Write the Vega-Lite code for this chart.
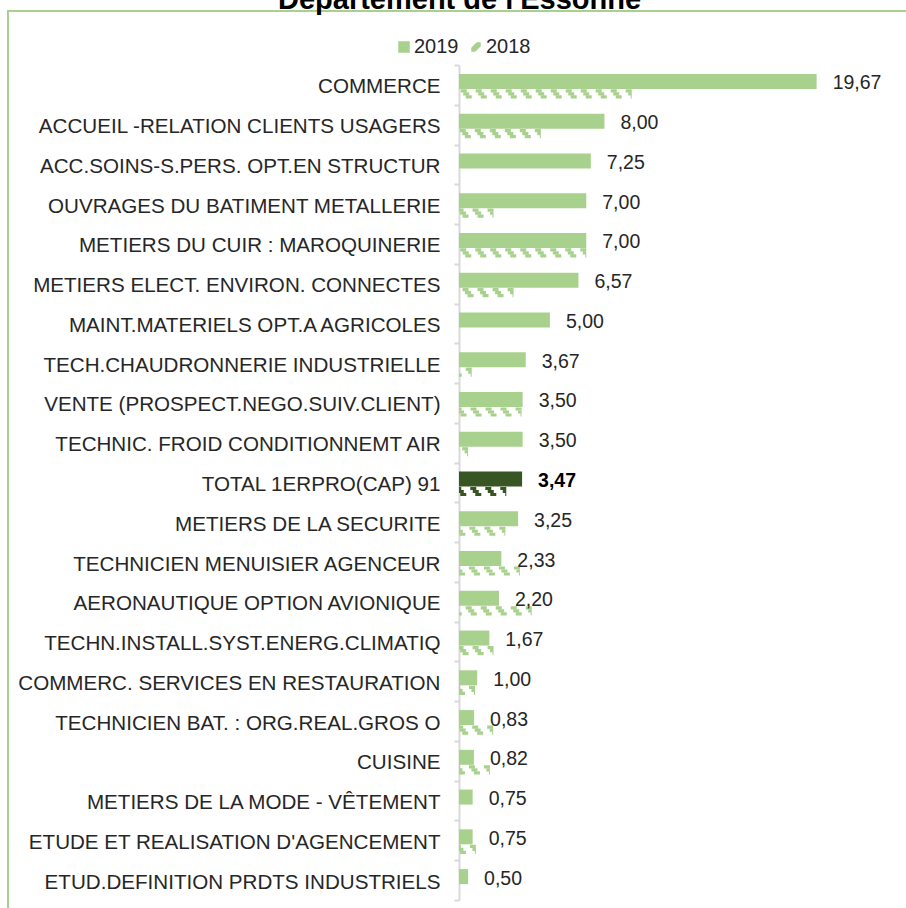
{
  "$schema": "https://vega.github.io/schema/vega-lite/v6.json",
  "autosize": {"type": "none"},
  "padding": {"left": 8, "top": 11, "right": 0, "bottom": 0},
  "width": 940,
  "height": 940,
  "title": {"text": "Département de l'Essonne", "fontSize": 29, "font": "Liberation Sans", "fontWeight": "bold", "color": "#000000", "anchor": "start", "dx": 270, "baseline": "alphabetic", "offset": 2, "dy": 39, "frame": "group"},
  "config": {
    "locale": {"number": {"decimal": ",", "thousands": " ", "grouping": [3], "currency": ["", " €"]}},
    "view": {"stroke": "#a9d18e", "strokeWidth": 2},
    "font": "Liberation Sans"
  },
  "data": {"values": [
    {"cat": "COMMERCE", "2019": 19.67, "2018": 9.5},
    {"cat": "ACCUEIL -RELATION CLIENTS USAGERS", "2019": 8.0, "2018": 4.5},
    {"cat": "ACC.SOINS-S.PERS. OPT.EN STRUCTUR", "2019": 7.25, "2018": 0},
    {"cat": "OUVRAGES DU BATIMENT METALLERIE", "2019": 7.0, "2018": 1.9},
    {"cat": "METIERS DU CUIR : MAROQUINERIE", "2019": 7.0, "2018": 7.0},
    {"cat": "METIERS ELECT. ENVIRON. CONNECTES", "2019": 6.57, "2018": 3.0},
    {"cat": "MAINT.MATERIELS OPT.A AGRICOLES", "2019": 5.0, "2018": 0},
    {"cat": "TECH.CHAUDRONNERIE INDUSTRIELLE", "2019": 3.67, "2018": 0.7},
    {"cat": "VENTE (PROSPECT.NEGO.SUIV.CLIENT)", "2019": 3.5, "2018": 3.44},
    {"cat": "TECHNIC. FROID CONDITIONNEMT AIR", "2019": 3.5, "2018": 0.5},
    {"cat": "TOTAL 1ERPRO(CAP) 91", "2019": 3.47, "2018": 2.6},
    {"cat": "METIERS DE LA SECURITE", "2019": 3.25, "2018": 2.55},
    {"cat": "TECHNICIEN MENUISIER AGENCEUR", "2019": 2.33, "2018": 3.35},
    {"cat": "AERONAUTIQUE OPTION AVIONIQUE", "2019": 2.2, "2018": 4.0},
    {"cat": "TECHN.INSTALL.SYST.ENERG.CLIMATIQ", "2019": 1.67, "2018": 1.9},
    {"cat": "COMMERC. SERVICES EN RESTAURATION", "2019": 1.0, "2018": 0.88},
    {"cat": "TECHNICIEN BAT. : ORG.REAL.GROS O", "2019": 0.83, "2018": 1.88},
    {"cat": "CUISINE", "2019": 0.82, "2018": 1.7},
    {"cat": "METIERS DE LA MODE - VÊTEMENT", "2019": 0.75, "2018": 0},
    {"cat": "ETUDE ET REALISATION D'AGENCEMENT", "2019": 0.75, "2018": 0.93},
    {"cat": "ETUD.DEFINITION PRDTS INDUSTRIELS", "2019": 0.5, "2018": 0}
  ]},
  "transform": [{"fold": ["2019", "2018"], "as": ["year", "value"]}],
  "encoding": {
    "y": {
      "field": "cat", "type": "nominal", "sort": null,
      "scale": {"range": [54, 889], "paddingInner": 0, "paddingOuter": 0},
      "axis": {
        "title": null, "orient": "left", "offset": -451,
        "domainColor": "#d9d9d9", "domainWidth": 2,
        "tickColor": "#d9d9d9", "tickWidth": 2, "tickSize": 5, "tickBand": "extent",
        "labelFontSize": 20.6, "labelColor": "#262626", "labelPadding": 14, "labelLimit": 600, "labelOffset": 2
      }
    }
  },
  "layer": [
    {
      "transform": [{"filter": "datum.year == '2019'"}],
      "mark": {"type": "bar", "height": 15, "yOffset": -3.5},
      "encoding": {
        "x": {"field": "value", "type": "quantitative", "scale": {"domain": [0, 22], "range": [451, 851]}, "axis": null},
        "color": {
          "condition": {"test": "datum.cat == 'TOTAL 1ERPRO(CAP) 91'", "value": "#375623"},
          "field": "year", "type": "nominal",
          "scale": {"domain": ["2019", "2018"], "range": ["#a9d18e", "#a9d18e"]},
          "legend": {
            "title": null, "orient": "none", "legendX": 386, "legendY": 26, "direction": "horizontal",
            "labelFontSize": 20, "labelColor": "#262626", "symbolSize": 100, "symbolType": "square",
            "labelOffset": 0, "columnPadding": 7,
            "encode": {"symbols": {"update": {
              "fill": {"value": "#a9d18e"}, "stroke": {"value": "transparent"},
              "shape": {"signal": "datum.value == '2018' ? 'M-0.8,0.8 L-0.2,0.8 L0.8,-0.2 L0.8,-0.8 L0.2,-0.8 L-0.8,0.2 Z' : 'square'"}
            }}}
          }
        }
      }
    },
    {
      "transform": [{"filter": "datum.year == '2018' && datum.value > 0"}],
      "mark": {"type": "rule", "strokeWidth": 3.2, "strokeDash": [6, 9], "strokeDashOffset": 0, "yOffset": 6},
      "encoding": {
        "x": {"field": "value", "type": "quantitative"}, "x2": {"datum": 0},
        "color": {"condition": {"test": "datum.cat == 'TOTAL 1ERPRO(CAP) 91'", "value": "#375623"}, "field": "year", "type": "nominal"}
      }
    },
    {
      "transform": [{"filter": "datum.year == '2018' && datum.value > 0"}],
      "mark": {"type": "rule", "strokeWidth": 3.2, "strokeDash": [6, 9], "strokeDashOffset": 2.5, "yOffset": 9},
      "encoding": {
        "x": {"field": "value", "type": "quantitative"}, "x2": {"datum": 0},
        "color": {"condition": {"test": "datum.cat == 'TOTAL 1ERPRO(CAP) 91'", "value": "#375623"}, "field": "year", "type": "nominal"}
      }
    },
    {
      "transform": [{"filter": "datum.year == '2018' && datum.value > 0"}],
      "mark": {"type": "rule", "strokeWidth": 3.2, "strokeDash": [6, 9], "strokeDashOffset": 5, "yOffset": 12},
      "encoding": {
        "x": {"field": "value", "type": "quantitative"}, "x2": {"datum": 0},
        "color": {"condition": {"test": "datum.cat == 'TOTAL 1ERPRO(CAP) 91'", "value": "#375623"}, "field": "year", "type": "nominal"}
      }
    },
    {
      "transform": [{"filter": "datum.year == '2019' && datum.cat != 'TOTAL 1ERPRO(CAP) 91'"}],
      "mark": {"type": "text", "align": "left", "baseline": "middle", "dx": 16, "yOffset": -1.5, "fontSize": 19.5, "color": "#262626"},
      "encoding": {
        "x": {"field": "value", "type": "quantitative"},
        "text": {"field": "value", "type": "quantitative", "format": ".2f"}
      }
    },
    {
      "transform": [{"filter": "datum.year == '2019' && datum.cat == 'TOTAL 1ERPRO(CAP) 91'"}],
      "mark": {"type": "text", "align": "left", "baseline": "middle", "dx": 16, "yOffset": -1.5, "fontSize": 19.5, "fontWeight": "bold", "color": "#000000"},
      "encoding": {
        "x": {"field": "value", "type": "quantitative"},
        "text": {"field": "value", "type": "quantitative", "format": ".2f"}
      }
    }
  ]
}
